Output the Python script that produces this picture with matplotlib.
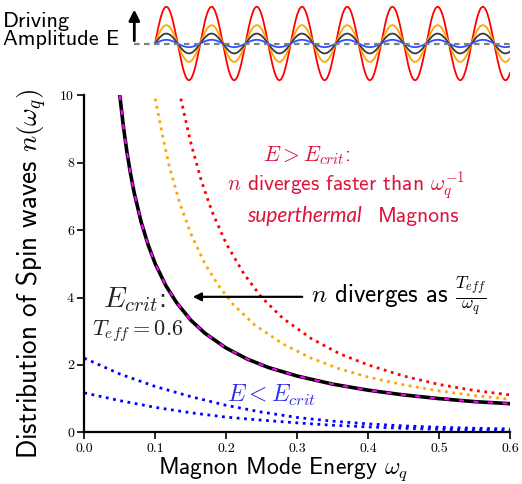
import numpy as np
import matplotlib.pyplot as plt

plt.rcParams['font.family'] = 'cmss10'
plt.rcParams['mathtext.fontset'] = 'cm'
plt.rcParams['axes.unicode_minus'] = False

# critical drive: n = T_eff / omega
omega_crit = [0.05, 0.055, 0.06, 0.065, 0.07, 0.08, 0.09, 0.1, 0.115, 0.13, 0.15,
              0.17, 0.2, 0.23, 0.26, 0.3, 0.35, 0.4, 0.45, 0.5, 0.55, 0.6]
n_crit = [10.0, 9.09, 8.33, 7.69, 7.14, 6.25, 5.56, 5.0, 4.35, 3.85, 3.33,
          2.94, 2.5, 2.17, 1.92, 1.67, 1.43, 1.25, 1.11, 1.0, 0.91, 0.85]

# above critical drive
omega_orange = [0.1, 0.11, 0.12, 0.135, 0.15, 0.17, 0.19, 0.21, 0.24, 0.28,
                0.32, 0.36, 0.4, 0.45, 0.5, 0.55, 0.6]
n_orange = [9.9, 8.83, 7.87, 6.77, 5.9, 5.0, 4.33, 3.79, 3.19, 2.62,
            2.2, 1.88, 1.64, 1.41, 1.23, 1.09, 0.98]

omega_red = [0.136, 0.15, 0.165, 0.18, 0.2, 0.225, 0.25, 0.28, 0.32, 0.36,
             0.4, 0.45, 0.5, 0.55, 0.6]
n_red = [9.9, 8.6, 7.46, 6.55, 5.6, 4.7, 4.0, 3.38, 2.78, 2.33,
         2.0, 1.67, 1.42, 1.24, 1.11]

# below critical drive
omega_blue = [0.0, 0.05, 0.1, 0.15, 0.2, 0.25, 0.3, 0.35, 0.4, 0.45, 0.5, 0.55, 0.6]
n_blue_hi = [2.2, 1.73, 1.36, 1.06, 0.8, 0.6, 0.44, 0.33, 0.25, 0.19, 0.15, 0.12, 0.1]
n_blue_lo = [1.17, 0.94, 0.74, 0.58, 0.45, 0.36, 0.28, 0.21, 0.16, 0.12, 0.09, 0.07, 0.05]

x_ticks = [0.0, 0.1, 0.2, 0.3, 0.4, 0.5, 0.6]
y_ticks = [0, 2, 4, 6, 8, 10]

# driving sketch on top
drive_amp = [1.0, 0.5, 0.27, 0.1]
drive_colors = ['red', 'orange', '#3a3a3a', '#3050ff']
n_periods = 7.85

fig = plt.figure(figsize=(5.22, 4.84), dpi=100)
ax = fig.add_axes([0.1615, 0.1068, 0.8155, 0.6963])

ax.plot(omega_crit, n_crit, color='black', lw=2.6)
ax.plot(omega_crit, n_crit, color='magenta', lw=1.5, ls=(0, (2.5, 4.5)))
ax.plot(omega_orange, n_orange, ':', color='orange', lw=2)
ax.plot(omega_red, n_red, ':', color='red', lw=2)
ax.plot(omega_blue, n_blue_hi, ':', color='blue', lw=2)
ax.plot(omega_blue, n_blue_lo, ':', color='blue', lw=2)

ax.set_xlim(0, 0.6)
ax.set_ylim(0, 10)
ax.set_xticks(x_ticks)
ax.set_yticks(y_ticks)
ax.set_xticklabels([f'{v:.1f}' for v in x_ticks])
ax.tick_params(labelfontfamily='cmr10', labelsize=10, width=1.2, length=5,
               color='black', pad=2.5)
for s in ['top', 'right']:
    ax.spines[s].set_visible(False)
for s in ['left', 'bottom']:
    ax.spines[s].set_linewidth(1.6)

ax.set_xlabel(r'Magnon Mode Energy $\omega_q$', fontsize=17)
ax.xaxis.set_label_coords(0.467, -0.069)
ax.set_ylabel(r'Distribution of Spin waves $n(\omega_q)$', fontsize=19.5)
ax.yaxis.set_label_coords(-0.082, 0.47)

# annotations
ax.text(0.026, 3.71, r'$E_{crit}$:', fontsize=21, color='#222222')
ax.text(0.011, 2.89, r'$T_{eff} = 0.6$', fontsize=16, color='#222222')
ax.annotate('', xy=(0.149, 4.02), xytext=(0.311, 4.02),
            arrowprops=dict(arrowstyle='-|>', color='black', lw=1.6, mutation_scale=12))
ax.text(0.320, 3.83, r'$n$ diverges as $\frac{T_{eff}}{\omega_q}$', fontsize=18)

red_txt = '#dc143c'
ax.text(0.252, 8.03, r'$E > E_{crit}$:', fontsize=15.5, color=red_txt)
ax.text(0.201, 7.16, r'$n$ diverges faster than $\omega_q^{-1}$', fontsize=15.5, color=red_txt)
ax.text(0.391, 6.25, 'superthermal', fontsize=15, color=red_txt, ha='right',
        family='Lato', style='italic')
ax.text(0.4136, 6.25, 'Magnons', fontsize=15.5, color=red_txt)

ax.text(0.201, 0.91, r'$E < E_{crit}$', fontsize=17, color='#3030e0')

# top sketch of the driving amplitude
axt = fig.add_axes([125 / 522, 1 - 87 / 484, (510 - 125) / 522, 87 / 484])
axt.axis('off')
arrow_x = -0.458
axt.set_xlim(-0.664, n_periods)
axt.set_ylim(-1.185, 1.185)
t = np.linspace(0, n_periods, 800)
for amp, c in zip(drive_amp, drive_colors):
    axt.plot(t, amp * np.sin(2 * np.pi * t), color=c, lw=1.3)
axt.plot([arrow_x, n_periods], [0, 0], color='gray', lw=1.6, ls=(0, (2.5, 2)))
axt.annotate('', xy=(arrow_x, 1.0), xytext=(arrow_x, 0),
             arrowprops=dict(arrowstyle='-|>', color='black', lw=2, mutation_scale=16),
             annotation_clip=False)
fig.text(3 / 522, 1 - 27.3 / 484, 'Driving', fontsize=16, va='baseline')
fig.text(3 / 522, 1 - 45 / 484, 'Amplitude E', fontsize=16, va='baseline')

fig.savefig('out.png', dpi=100)
